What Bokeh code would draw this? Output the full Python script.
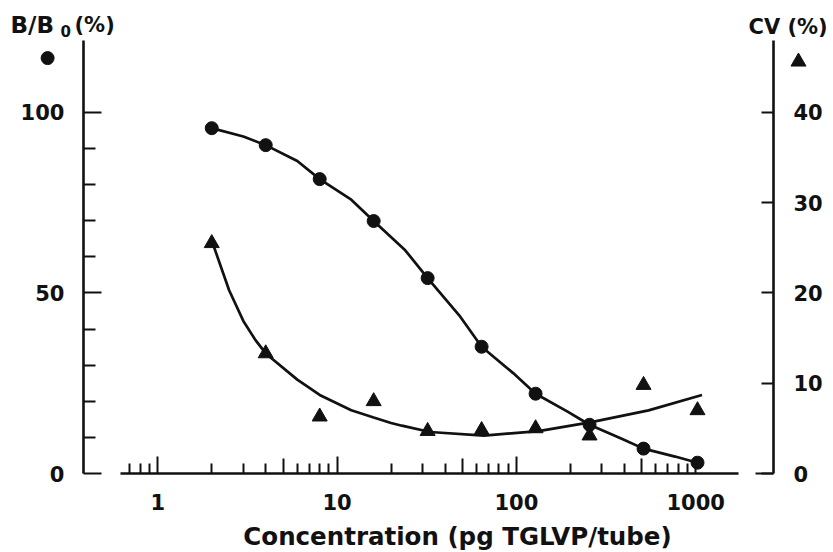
from bokeh.plotting import figure
from bokeh.models import (Range1d, LinearAxis, LogAxis, FixedTicker, Label,
                          NumeralTickFormatter, CustomJSTickFormatter)
from bokeh.embed import file_html
from bokeh.resources import INLINE

# ---- data ----
conc = [2, 4, 8, 16, 32, 64, 128, 256, 512, 1024]
b_b0 = [95.6, 90.9, 81.5, 69.9, 54.1, 35.1, 22.1, 13.5, 6.9, 3.0]
cv = [25.5, 13.3, 6.3, 8.0, 4.7, 4.8, 5.0, 4.2, 9.8, 7.0]

fit_b_x = [2, 3, 4, 6, 8, 12, 16, 24, 32, 48, 64, 96, 128, 192, 256, 384, 512, 768, 1024]
fit_b_y = [95.6, 93.3, 90.9, 86.5, 81.5, 75.8, 69.9, 61.8, 54.1, 43.8, 35.1, 27.8, 22.1,
           17.2, 13.5, 9.7, 6.9, 4.7, 3.0]

fit_cv_x = [2, 2.5, 3, 3.5, 4, 6, 8, 12, 16, 20, 23, 33, 66, 133, 262, 546, 1085]
fit_cv_y = [25.8, 20.3, 16.9, 14.8, 13.3, 10.4, 8.7, 7.0, 6.2, 5.6, 5.3, 4.6, 4.2, 4.7,
            5.7, 7.0, 8.7]

x_major = [1, 10, 100, 1000]
x_mid = [5, 50, 500]
x_minor = [0.7, 0.8, 0.9, 2, 3, 4, 6, 7, 8, 9, 20, 30, 40, 60, 70, 80, 90,
           200, 300, 400, 600, 700, 800, 900]
left_major = [0, 50, 100]
left_minor = [10, 20, 30, 40, 60, 70, 80, 90]
right_major = [0, 10, 20, 30, 40]

# symbol keys shown under the two axis titles
key_dot = ([0.243], [115.0])   # B/B0 key (left scale)
key_tri = ([3745.0], [45.6])   # CV key (right scale)

FONT = "DejaVu Sans"
INK = "#111111"
W, H = 830, 550

# frame covers the whole canvas; the axes are placed with fixed_location
p = figure(width=W, height=H, x_axis_type="log", title=None,
           x_range=Range1d(0.1327, 5650), y_range=Range1d(-21.3, 130.94),
           output_backend="svg", toolbar_location=None,
           min_border=0, min_border_left=0, min_border_right=0,
           min_border_top=0, min_border_bottom=0)
p.extra_y_ranges = {"cv": Range1d(-8.52, 52.38)}
p.outline_line_color = None
p.grid.visible = False
p.background_fill_color = "white"

X_LEFT, X_RIGHT = 0.385, 2716

def style(ax, labels=True):
    ax.axis_line_color = INK
    ax.axis_line_width = 2.6
    ax.major_tick_line_color = INK
    ax.major_tick_line_width = 2
    ax.minor_tick_line_color = INK
    ax.minor_tick_line_width = 2
    ax.major_tick_out = 0
    ax.minor_tick_out = 0
    ax.major_label_text_font = FONT
    ax.major_label_text_font_style = "bold"
    ax.major_label_text_font_size = "21px"
    ax.major_label_text_color = INK
    if not labels:
        ax.axis_line_color = None
        ax.minor_tick_in = 0
        ax.formatter = CustomJSTickFormatter(code="return ''")

raxis = LinearAxis(y_range_name="cv", fixed_location=X_RIGHT)
p.add_layout(raxis, "right")

xa = p.xaxis[0]
xa.fixed_location = 0
xa.ticker = FixedTicker(ticks=x_major, minor_ticks=x_minor)
xa.formatter = NumeralTickFormatter(format="0")
xa.bounds = (0.62, 1740)
style(xa)
xa.major_tick_in = 17
xa.minor_tick_in = 10
xa.major_label_standoff = 20

# half-decade ticks (5, 50, 500) are a little longer than the minor ones
xmid = LogAxis(fixed_location=0, ticker=FixedTicker(ticks=x_mid, minor_ticks=[]))
style(xmid, labels=False)
xmid.major_tick_in = 15
p.add_layout(xmid, "below")

ya = p.yaxis[0]
ya.fixed_location = X_LEFT
ya.ticker = FixedTicker(ticks=left_major, minor_ticks=left_minor)
ya.bounds = (0, 120)
style(ya)
ya.major_tick_in = 18
ya.minor_tick_in = 12
ya.major_label_standoff = 19

raxis.ticker = FixedTicker(ticks=right_major, minor_ticks=[])
raxis.bounds = (0, 48)
style(raxis)
raxis.major_tick_in = 12
raxis.minor_tick_in = 0
raxis.major_label_standoff = 20

# the zero tick of the right scale is drawn longer
rzero = LinearAxis(y_range_name="cv", fixed_location=X_RIGHT,
                   ticker=FixedTicker(ticks=[0], minor_ticks=[]))
style(rzero, labels=False)
rzero.major_tick_in = 18
p.add_layout(rzero, "right")

# fitted curves
p.line(fit_b_x, fit_b_y, line_width=2.7, line_color=INK)
p.line(fit_cv_x, fit_cv_y, line_width=2.7, line_color=INK, y_range_name="cv")

# points
p.scatter(conc, b_b0, marker="circle", size=13, fill_color=INK, line_color=INK)
p.scatter(conc, cv, marker="triangle", size=15, fill_color=INK, line_color=INK,
          y_range_name="cv")

# key symbols
p.scatter(key_dot[0], key_dot[1], marker="circle", size=13, fill_color=INK, line_color=INK)
p.scatter(key_tri[0], key_tri[1], marker="triangle", size=15, fill_color=INK,
          line_color=INK, y_range_name="cv")

def lab(text, x, y, size="21px", align="left"):
    p.add_layout(Label(x=x, y=y, x_units="screen", y_units="screen", text=text,
                       text_font=FONT, text_font_style="bold", text_font_size=size,
                       text_color=INK, text_align=align, text_baseline="alphabetic"))

# axis titles (screen units measured from the canvas' bottom-left corner)
lab("B/B", 10, H - 24, size="23px")
lab("0", 60, H - 30, size="15px")
lab("(%)", 74, H - 24, size="21px")
lab("CV (%)", 748, H - 26, size="21px")
lab("Concentration (pg TGLVP/tube)", 457, 14, size="24.5px", align="center")

open("out.html", "w").write(file_html(p, INLINE))
